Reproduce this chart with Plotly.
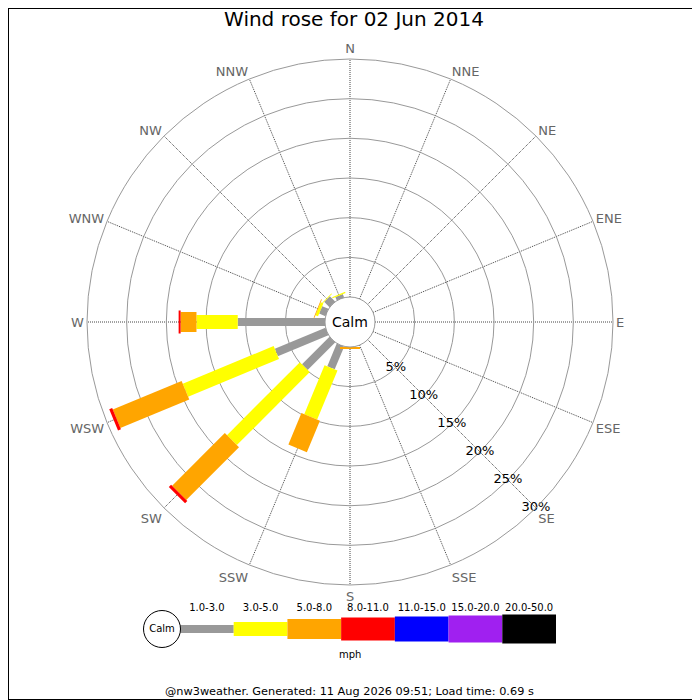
import plotly.graph_objects as go
import numpy as np

# compass points, clockwise from north
directions = ["N", "NNE", "NE", "ENE", "E", "ESE", "SE", "SSE",
              "S", "SSW", "SW", "WSW", "W", "WNW", "NW", "NNW"]
dir_angles = np.arange(16) * 22.5

speed_bins = ["1.0-3.0", "3.0-5.0", "5.0-8.0", "8.0-11.0",
              "11.0-15.0", "15.0-20.0", "20.0-50.0"]
bin_colours = ["#999999", "#ffff00", "#ffa500", "#ff0000",
               "#0000ff", "#a020f0", "#000000"]
bin_widths = [8, 14, 20, 23, 25, 27, 29]

# % of time per direction, one list per speed bin (N .. NNW)
freq_1_3   = [0, 0, 0, 0, 0, 0, 0, 0, 0,    3.1, 4.9, 6.9, 11.0, 0.85, 0.95, 0.45]
freq_3_5   = [0, 0, 0, 0, 0, 0, 0, 0, 0,    6.7, 13.0, 12.4, 5.2, 0.35, 0.1, 0.15]
freq_5_8   = [0, 0, 0, 0, 0, 0, 0, 0, 0.25, 4.3, 9.4, 9.4, 2.0, 0.1, 0, 0]
freq_8_11  = [0, 0, 0, 0, 0, 0, 0, 0, 0,    0, 0.4, 0.4, 0.25, 0, 0, 0]
freq_11_15 = [0] * 16
freq_15_20 = [0] * 16
freq_20_50 = [0] * 16

freqs = np.array([freq_1_3, freq_3_5, freq_5_8, freq_8_11,
                  freq_11_15, freq_15_20, freq_20_50])
tops = np.cumsum(freqs, axis=0)
bottoms = tops - freqs

rings = [0, 5, 10, 15, 20, 25, 30]
ring_labels = ["%d%%" % v for v in rings[1:]]
label_bearing = 135   # ring labels run out along SE

FONT = "DejaVu Sans"
W = H = 692   # page body keeps an 8px margin, so lay out in shifted pixels
OFF = 8


def px_x(x):
    return (x - OFF) / W


def px_y(y):
    return 1 - (y - OFF) / H


fig = go.Figure()

# rose bars: one trace per speed bin, straight radial strokes
for i in range(len(speed_bins)):
    rr, tt = [], []
    for j in range(16):
        if freqs[i, j] > 0:
            rr += [bottoms[i, j], tops[i, j], None]
            tt += [dir_angles[j], dir_angles[j], None]
    if rr:
        fig.add_trace(go.Scatterpolar(r=rr, theta=tt, mode="lines",
                                      line=dict(color=bin_colours[i], width=bin_widths[i]),
                                      hoverinfo="skip"))

# percentage labels sitting on the rings
fig.add_trace(go.Scatterpolar(r=rings[1:], theta=[label_bearing] * len(ring_labels),
                              mode="text", text=ring_labels, cliponaxis=False,
                              textfont=dict(family=FONT, size=13, color="black"),
                              hoverinfo="skip"))

# key below the rose (x in segment units, y in pixels)
seg_px = 376 / 7
for i in range(len(speed_bins)):
    fig.add_trace(go.Scatter(x=[i, i + 1], y=[0, 0], mode="lines",
                             line=dict(color=bin_colours[i], width=bin_widths[i]),
                             hoverinfo="skip"))
fig.add_trace(go.Scatter(x=np.arange(len(speed_bins)) + 0.5, y=[21] * len(speed_bins),
                         mode="text", text=speed_bins,
                         textfont=dict(family=FONT, size=10, color="black"),
                         hoverinfo="skip"))
fig.add_trace(go.Scatter(x=[-18 / seg_px], y=[0], mode="markers+text", text=["Calm"],
                         textposition="middle center",
                         textfont=dict(family=FONT, size=10, color="black"),
                         marker=dict(size=37, color="white", line=dict(color="black", width=1)),
                         hoverinfo="skip"))

fig.update_layout(
    width=W, height=H,
    margin=dict(l=0, r=0, t=0, b=0),
    paper_bgcolor="white", plot_bgcolor="white",
    showlegend=False,
    font=dict(family=FONT),
    title=dict(text="Wind rose for 02 Jun 2014", x=0.5, xanchor="center",
               y=px_y(19), yanchor="middle",
               font=dict(family=FONT, size=20, color="black")),
    polar=dict(
        domain=dict(x=[px_x(87), px_x(613)], y=[px_y(585), px_y(59)]),
        hole=25 / 263,
        bgcolor="white",
        radialaxis=dict(range=[0, 30], tickvals=rings, showticklabels=False,
                        angle=-45, showline=False, ticks="",
                        gridcolor="#999999", gridwidth=1),
        angularaxis=dict(rotation=90, direction="clockwise",
                         tickvals=dir_angles, ticktext=directions,
                         showline=True, linecolor="#999999", linewidth=1,
                         gridcolor="#444444", griddash="1px,1px", ticks="",
                         tickfont=dict(family=FONT, size=13, color="#666666")),
    ),
    xaxis=dict(domain=[px_x(140), px_x(560)],
               range=[-40 / seg_px, 7 + 4 / seg_px], visible=False, fixedrange=True),
    yaxis=dict(domain=[px_y(659), px_y(599)], range=[-30, 30],
               visible=False, fixedrange=True),
    annotations=[
        dict(text="Calm", x=px_x(350), y=px_y(322), xref="paper", yref="paper",
             yanchor="middle", showarrow=False,
             font=dict(family=FONT, size=14, color="black")),
        dict(text="mph", x=px_x(350), y=px_y(654), xref="paper", yref="paper",
             yanchor="middle", showarrow=False,
             font=dict(family=FONT, size=10, color="black")),
        dict(text="@nw3weather. Generated: 11 Aug 2026 09:51; Load time: 0.69 s",
             x=px_x(349), y=px_y(691), xref="paper", yref="paper",
             yanchor="middle", showarrow=False,
             font=dict(family=FONT, size=11.3, color="black")),
    ],
    shapes=[dict(type="rect", xref="paper", yref="paper", x0=0, y0=0, x1=1, y1=1,
                 line=dict(color="black", width=2))],
)

fig.write_html("out.html")
